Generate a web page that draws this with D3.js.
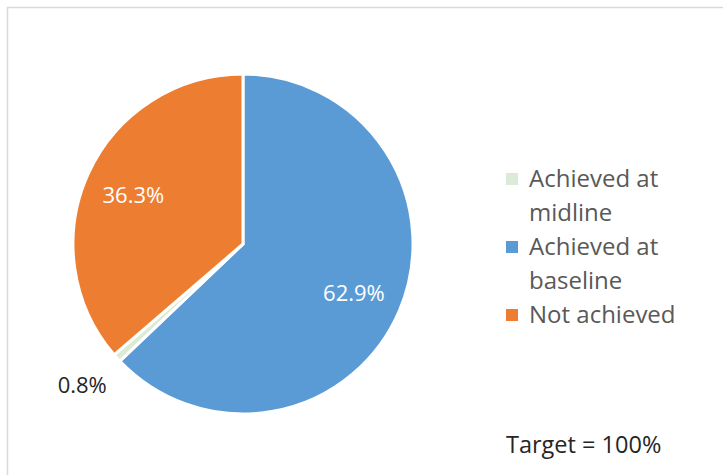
<!DOCTYPE html>
<html>
<head>
<meta charset="utf-8">
<script src="https://cdn.jsdelivr.net/npm/d3@7"></script>
<style>
  html, body { margin: 0; padding: 0; background: #fff; }
  svg { display: block; font-family: "Open Sans", "Noto Sans", sans-serif; }
</style>
</head>
<body>
<svg id="chart" width="723" height="475"></svg>
<script>
// Share of targets by status
const categories = ["Achieved at midline", "Achieved at baseline", "Not achieved"];
const values = [0.8, 62.9, 36.3];
const colors = ["#dcebd5", "#5b9bd5", "#ed7d31"];
// Drawing order around the pie (clockwise from 12 o'clock)
const sliceOrder = ["Achieved at baseline", "Achieved at midline", "Not achieved"];
const legendLines = [["Achieved at", "midline"], ["Achieved at", "baseline"], ["Not achieved"]];
const note = "Target = 100%";

const svg = d3.select("#chart");

// chart frame
svg.append("rect")
  .attr("x", 7.5).attr("y", 7.5)
  .attr("width", 740).attr("height", 490)
  .attr("fill", "#fff")
  .attr("stroke", "#d9d9d9").attr("stroke-width", 1.5);

const data = sliceOrder.map(name => {
  const i = categories.indexOf(name);
  return { name, value: values[i], color: colors[i] };
});

const cx = 243, cy = 244, r = 170;
const pie = d3.pie().sort(null).value(d => d.value);
const arc = d3.arc().innerRadius(0).outerRadius(r);
const arcs = pie(data);

const g = svg.append("g").attr("transform", `translate(${cx},${cy})`);
g.selectAll("path")
  .data(arcs)
  .join("path")
  .attr("d", arc)
  .attr("fill", d => d.data.color)
  .attr("stroke", "#fff")
  .attr("stroke-width", 3)
  .attr("stroke-linejoin", "round");

// value labels
const labelArc = d3.arc().innerRadius(r * 0.71).outerRadius(r * 0.71);
const outerArc = d3.arc().innerRadius(r * 1.18).outerRadius(r * 1.18);
const fmt = v => v.toFixed(1) + "%";
arcs.forEach(a => {
  let x, y, fill;
  if (a.data.value < 5) {
    [x, y] = outerArc.centroid(a);
    x -= 12; y += 5;
    fill = "#262626";
  } else {
    [x, y] = labelArc.centroid(a);
    fill = "#fff";
  }
  g.append("text")
    .attr("x", x).attr("y", y)
    .attr("text-anchor", "middle")
    .attr("dominant-baseline", "central")
    .attr("font-size", 22)
    .attr("fill", fill)
    .text(fmt(a.data.value));
});

// legend
const legend = svg.append("g");
let ly = 187;
categories.forEach((c, i) => {
  legend.append("rect")
    .attr("x", 506).attr("y", ly - 14)
    .attr("width", 12).attr("height", 12)
    .attr("fill", colors[i]);
  legendLines[i].forEach((line, j) => {
    legend.append("text")
      .attr("x", 529).attr("y", ly + j * 34)
      .attr("font-size", 24)
      .attr("fill", "#595959")
      .text(line);
  });
  ly += legendLines[i].length * 34;
});

svg.append("text")
  .attr("x", 506).attr("y", 453)
  .attr("font-size", 23.5)
  .attr("fill", "#262626")
  .text(note);
</script>
</body>
</html>
